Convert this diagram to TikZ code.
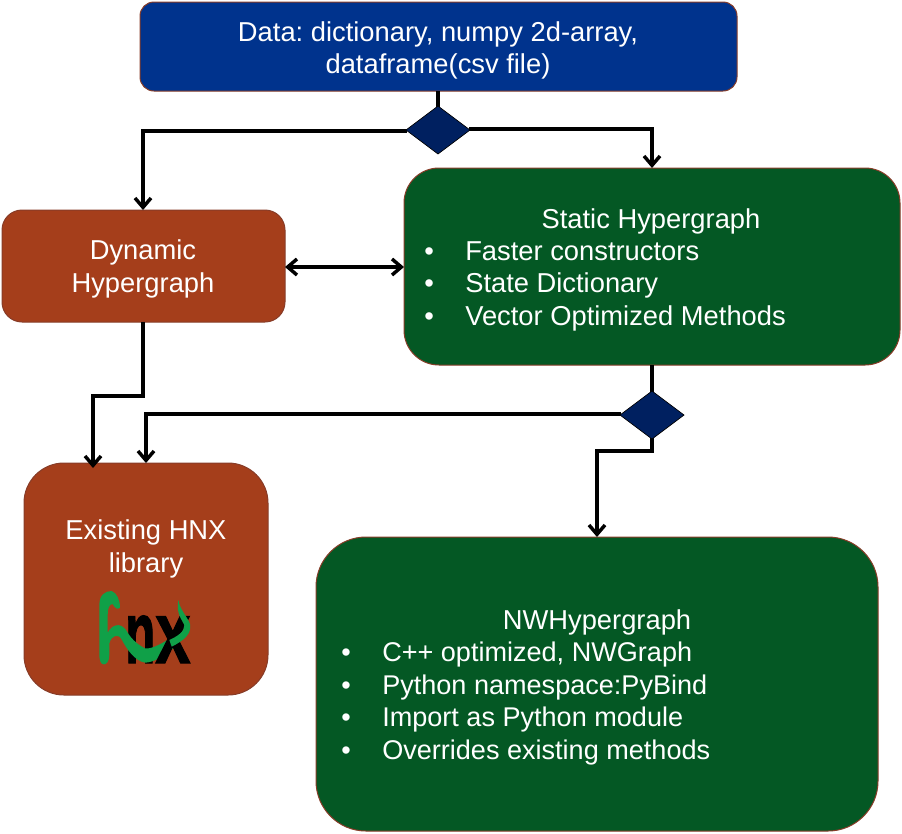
\documentclass[tikz,border=0pt]{standalone}
\usepackage{fontspec}
\usepackage{graphicx}
\setmainfont{Liberation Sans}
\newfontfamily\logofont[BoldFeatures={FakeBold=1.5}]{Liberation Sans}
\frenchspacing
\usetikzlibrary{shapes.geometric,arrows.meta}
\definecolor{blueb}{RGB}{0,51,141}
\definecolor{greenb}{RGB}{4,88,36}
\definecolor{brownb}{RGB}{165,62,27}
\definecolor{edgeb}{RGB}{135,60,40}
\definecolor{navyd}{RGB}{0,32,96}
\definecolor{snakegreen}{RGB}{16,160,72}
\tikzset{
  x=0.75pt,y=-0.75pt,
  boxn/.style={draw=edgeb,line width=0.75pt,inner sep=0,outer sep=0},
  dec/.style={diamond,aspect=1.33,draw=black,line width=0.5pt,fill=navyd,inner sep=0,outer sep=0,minimum width=48pt,minimum height=36pt},
  link/.style={line width=2.6pt,draw=black},
  arr/.style={link,-{Straight Barb[length=7pt,width=12pt,line width=2.6pt]}},
  arrb/.style={link,{Straight Barb[length=7pt,width=12pt,line width=2.6pt]}-{Straight Barb[length=7pt,width=12pt,line width=2.6pt]}},
  tc/.style={text=white,font=\fontsize{20.5}{24}\selectfont,anchor=base,inner sep=0},
  tl/.style={text=white,font=\fontsize{20.5}{24}\selectfont,anchor=base west,inner sep=0},
  tn/.style={text=white,font=\fontsize{20.3}{24}\selectfont,anchor=base west,inner sep=0},
  logot/.style={anchor=base west,inner sep=0,text=black,font=\logofont\fontsize{66}{66}\selectfont\bfseries},
}
\newcommand{\boxat}[7]{\node[boxn,fill=#7,rounded corners=#6*0.75pt,minimum width=#4*0.75pt-#2*0.75pt,minimum height=#5*0.75pt-#3*0.75pt] (#1) at ({(#2+#4)/2},{(#3+#5)/2}) {};}
\begin{document}
\begin{tikzpicture}
\useasboundingbox (0,0) rectangle (902,833);
\boxat{data}{140}{2}{737}{91}{14}{blueb}
\boxat{static}{404}{168}{900}{365}{35}{greenb}
\boxat{dyn}{2}{210}{285}{322}{20}{brownb}
\boxat{hnx}{24}{463}{268}{695}{40}{brownb}
\boxat{nw}{316}{537}{878}{831}{50}{greenb}
\coordinate (d1l) at (407,131);
\coordinate (d1r) at (469,129);
\coordinate (d2l) at (621,414);
\coordinate (a1) at (143,131);
\coordinate (a2) at (652,129);
\coordinate (b1) at (143,396);
\coordinate (b2) at (93,396);
\coordinate (c1) at (146,414);
\coordinate (e1) at (652,451);
\coordinate (e2) at (597,451);
\coordinate (t1) at (143,210);
\coordinate (t2) at (652,168);
\coordinate (t3) at (93,468);
\coordinate (t4) at (146,463);
\coordinate (t5) at (597,537);
\coordinate (s1) at (143,322);
\coordinate (s2) at (652,365);
\coordinate (s3) at (438,91);
\coordinate (l1) at (285,267);
\coordinate (l2) at (404,267);
\coordinate (d1n) at (438,108);
\coordinate (d2n) at (652,393);
\coordinate (d2s) at (652,438);
\draw[link] (s3) -- (d1n);
\draw[arr] (d1l) -- (a1) -- (t1);
\draw[arr] (d1r) -- (a2) -- (t2);
\draw[arrb] (l1) -- (l2);
\draw[link] (s2) -- (d2n);
\draw[arr] (s1) -- (b1) -- (b2) -- (t3);
\draw[arr] (d2l) -- (c1) -- (t4);
\draw[arr] (d2s) -- (e1) -- (e2) -- (t5);
\node[dec] (d1) at (438,130) {};
\node[dec] (d2) at (652,415) {};
% texts
\node[tc] (x1) at (438,41) {Data: dictionary, numpy 2d-array,};
\node[tc] (x2) at (438,73) {dataframe(csv file)};
\node[tc] (x3) at (143,259) {Dynamic};
\node[tc] (x4) at (143,292) {Hypergraph};
\node[tc] (x5) at (651,228) {Static Hypergraph};
\node[tl] (b5a) at (424,260) {•};
\node[tl] (x6) at (465,260) {Faster constructors};
\node[tl] (b5b) at (424,292) {•};
\node[tl] (x7) at (465,292) {State Dictionary};
\node[tl] (b5c) at (424,325) {•};
\node[tl] (x8) at (465,325) {Vector Optimized Methods};
\node[tc] (x9) at (146,539) {Existing HNX};
\node[tc] (x10) at (146,572) {library};
\node[tc] (x11) at (597,629) {NWHypergraph};
\node[tn] (b6a) at (341,661) {•};
\node[tn] (x12) at (382,661) {C++ optimized, NWGraph};
\node[tn] (b6b) at (341,694) {•};
\node[tn] (x13) at (382,694) {Python namespace:PyBind};
\node[tn] (b6c) at (341,726) {•};
\node[tn] (x14) at (382,726) {Import as Python module};
\node[tn] (b6d) at (341,759) {•};
\node[tn] (x15) at (382,759) {Overrides existing methods};
% logo
\node[logot] (logon) at (125,663) {\scalebox{0.56}[1]{n}};
\begin{scope}[shift={(70,580)},x=0.25pt,y=-0.25pt]
\fill[fill=snakegreen]
  (88,225) -- (88,75) .. controls (88,45) and (105,33) .. (125,33)
  .. controls (140,38) and (150,60) .. (150,83) .. controls (142,90) and (135,85) .. (128,72)
  .. controls (118,72) and (113,85) .. (113,105) -- (113,158)
  .. controls (125,135) and (150,125) .. (168,150) .. controls (180,170) and (195,190) .. (225,205)
  .. controls (240,208) and (270,195) .. (300,175) -- (310,205)
  .. controls (280,228) and (250,248) .. (225,248) .. controls (195,243) and (170,208) .. (155,178)
  .. controls (145,160) and (125,165) .. (118,190) -- (118,225)
  .. controls (118,245) and (108,255) .. (100,253) .. controls (92,252) and (88,240) .. (88,225) -- cycle;
\end{scope}
\node[logot] (logox) at (155,663) {\scalebox{0.72}[1]{x}};
\begin{scope}[shift={(70,580)},x=0.25pt,y=-0.25pt]
\fill[fill=snakegreen]
  (298,180) .. controls (320,170) and (345,155) .. (343,135)
  .. controls (335,118) and (318,100) .. (325,60)
  .. controls (330,90) and (352,110) .. (360,132)
  .. controls (365,160) and (345,180) .. (305,200) -- cycle;
\end{scope}
\end{tikzpicture}
\end{document}
